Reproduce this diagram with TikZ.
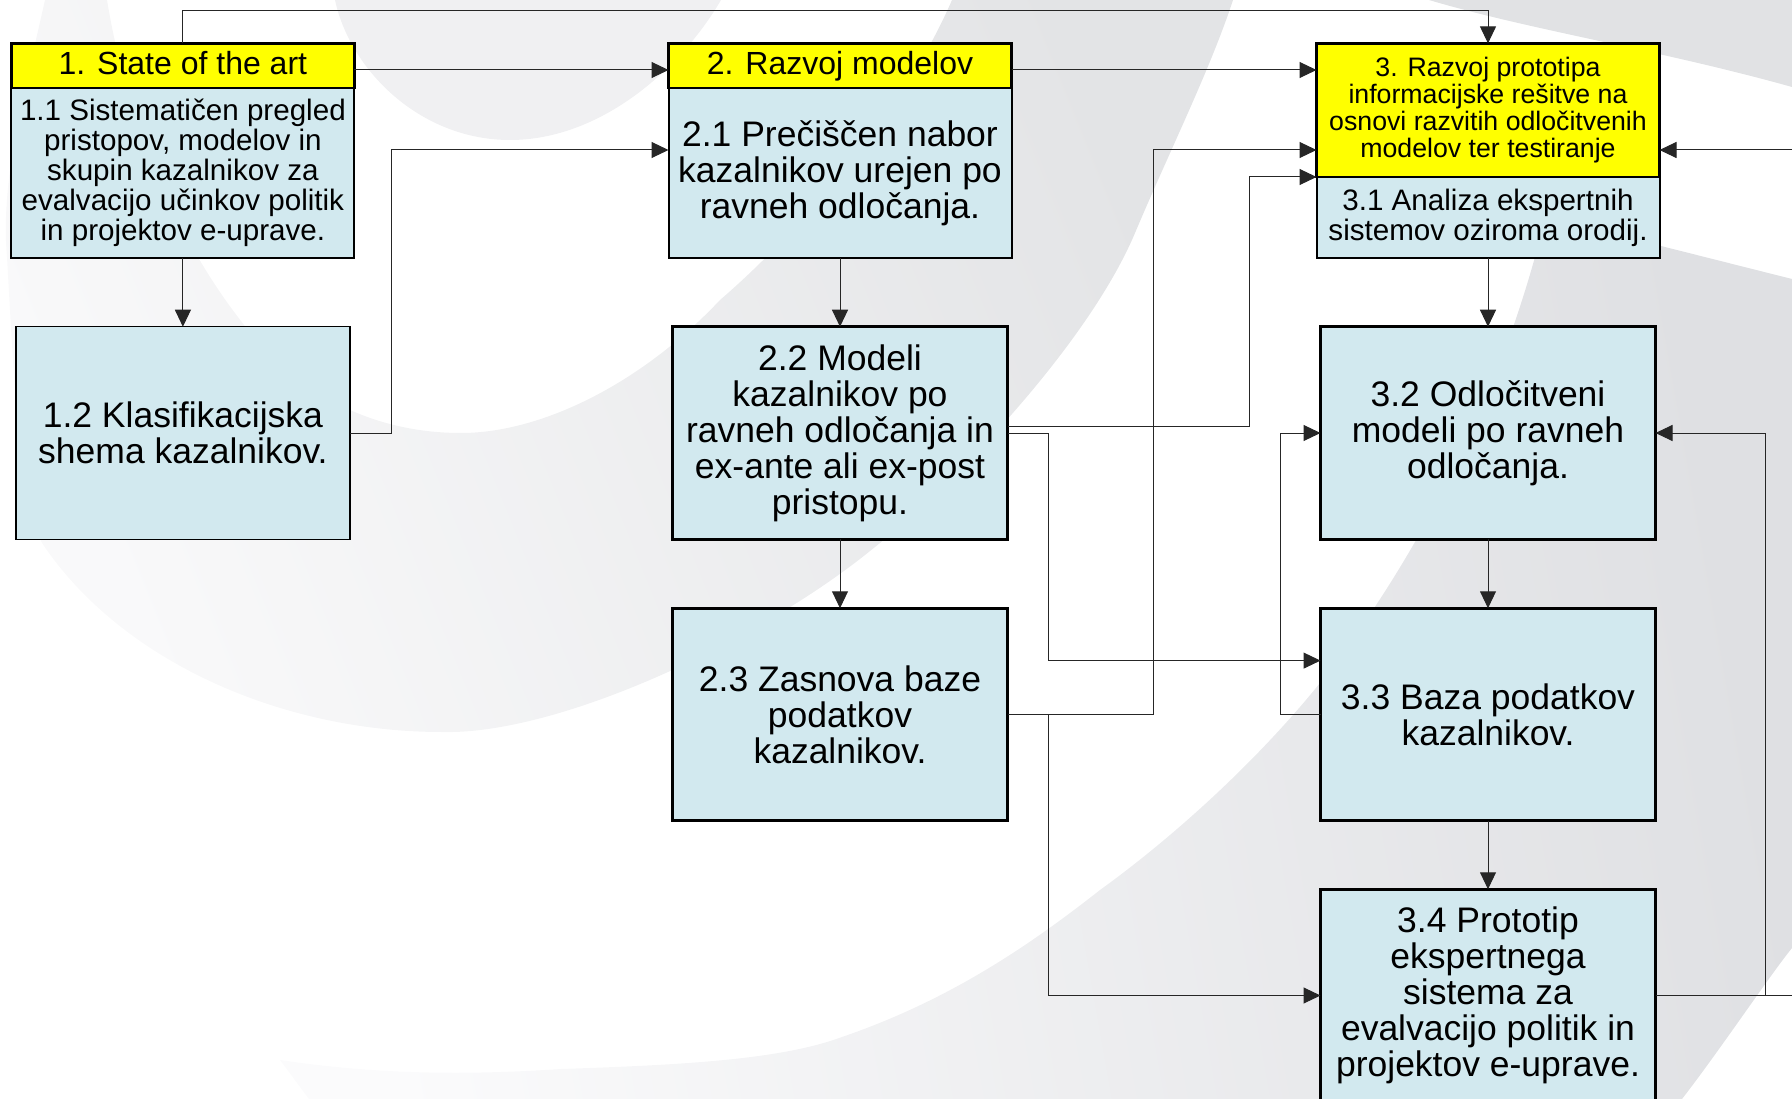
\documentclass[tikz,border=0pt]{standalone}
\usepackage{fontspec}
\setmainfont{Liberation Sans}
\usetikzlibrary{arrows.meta,calc}
\definecolor{boxfill}{HTML}{D2E9EF}
\definecolor{hdfill}{RGB}{255,255,0}
\definecolor{ln}{HTML}{262626}
\definecolor{swA}{HTML}{F9F9FA}
\definecolor{swAm}{HTML}{F5F5F6}
\definecolor{swB}{HTML}{E3E4E6}
\definecolor{swC}{HTML}{F0F0F2}
\definecolor{swD}{HTML}{E1E2E4}
\definecolor{swE}{HTML}{FBFBFC}
\definecolor{swEm}{HTML}{F3F3F5}
\definecolor{swF}{HTML}{DFE0E3}
\tikzset{
  conn/.style={draw=ln,line width=1pt,-{Triangle[length=17pt,width=16pt]}},
  plainconn/.style={draw=ln,line width=1pt},
  box/.style={draw=black,inner sep=0pt,outer sep=0pt,align=center,text=black},
  thinbox/.style={box,fill=boxfill,line width=1.2pt,minimum width=334pt,minimum height=212.5pt},
  thickbox/.style={box,fill=boxfill,line width=3.4pt,minimum width=335pt,minimum height=212.5pt},
  bodybox/.style={box,fill=boxfill,line width=2pt,minimum width=343pt},
  headbox/.style={box,fill=hdfill,line width=2.4pt,minimum width=343pt},
  big/.style={font=\fontsize{35.5}{36}\selectfont},
  mid/.style={font=\fontsize{29.6}{30}\selectfont},
  head/.style={font=\fontsize{32}{34}\selectfont,text height=24pt,text depth=7pt},
  small/.style={font=\fontsize{26.7}{27}\selectfont},
}
\begin{document}
\begin{tikzpicture}[x=1pt,y=-1pt]
\useasboundingbox (0,0) rectangle (1792,1099);
\clip (0,0) rectangle (1792,1099);
% background swooshes
\shade[left color=swA,middle color=swAm,right color=swB,shading angle=112]
  (45,0) .. controls (25,90) and (0,180) .. (7,257)
  .. controls (15,400) and (20,500) .. (42,543)
  .. controls (120,660) and (280,732) .. (442,732)
  .. controls (560,735) and (760,640) .. (870,551)
  .. controls (960,480) and (1090,340) .. (1135,233)
  .. controls (1170,150) and (1210,70) .. (1233,0)
  -- (952,0)
  .. controls (900,120) and (790,240) .. (720,300)
  .. controls (640,385) and (540,433) .. (461,433)
  .. controls (380,433) and (300,400) .. (241,321)
  .. controls (170,230) and (125,110) .. (107,0) -- cycle;
\fill[swC]
  (335,0) .. controls (350,70) and (420,140) .. (510,140)
  .. controls (600,140) and (680,70) .. (721,0) -- cycle;
\fill[swD]
  (1429,0) -- (1792,0) -- (1792,87) .. controls (1660,50) and (1530,30) .. (1429,0) -- cycle;
\shade[left color=swE,middle color=swEm,right color=swF,shading angle=100]
  (280,1060) .. controls (380,1075) and (470,1075) .. (561,1069)
  .. controls (680,1065) and (780,1060) .. (842,1037)
  .. controls (950,1000) and (1030,945) .. (1100,890)
  .. controls (1190,825) and (1290,730) .. (1353,639)
  .. controls (1430,530) and (1495,400) .. (1535,257)
  -- (1661,246) -- (1792,279) -- (1792,948)
  .. controls (1770,975) and (1720,1050) .. (1682,1099)
  -- (309,1099) -- cycle;
% boxes
\node[headbox,head,minimum height=44.6pt] (h1) at (182.9,65.7) {1. State of the art};
\node[bodybox,mid,minimum height=170pt] (b11) at (182.9,173) {1.1 Sistematičen pregled\\pristopov, modelov in\\skupin kazalnikov za\\evalvacijo učinkov politik\\in projektov e-uprave.};
\node[thinbox,big] (b12) at (182.9,433) {1.2 Klasifikacijska\\shema kazalnikov.};
\node[headbox,head,minimum height=44.6pt] (h2) at (840,65.7) {2. Razvoj modelov};
\node[bodybox,big,minimum height=170pt] (b21) at (840,173) {2.1 Prečiščen nabor\\kazalnikov urejen po\\ravneh odločanja.};
\node[thickbox,big] (b22) at (840,433) {2.2 Modeli\\kazalnikov po\\ravneh odločanja in\\ex-ante ali ex-post\\pristopu.};
\node[thickbox,big] (b23) at (840,714.5) {2.3 Zasnova baze\\podatkov\\kazalnikov.};
\node[headbox,small,minimum height=133.6pt] (h3) at (1488,110.2) {3. Razvoj prototipa\\informacijske rešitve na\\osnovi razvitih odločitvenih\\modelov ter testiranje};
\node[bodybox,mid,minimum height=81pt] (b31) at (1488,217.5) {3.1 Analiza ekspertnih\\sistemov oziroma orodij.};
\node[thickbox,big] (b32) at (1488,433) {3.2 Odločitveni\\modeli po ravneh\\odločanja.};
\node[thickbox,big] (b33) at (1488,714.5) {3.3 Baza podatkov\\kazalnikov.};
\node[thickbox,big] (b34) at (1488,995.5) {3.4 Prototip\\ekspertnega\\sistema za\\evalvacijo politik in\\projektov e-uprave.};
% way points
\coordinate (ytop) at (0,10.3);
\coordinate (y70) at (0,70);
\coordinate (y150) at (0,150);
\coordinate (y177) at (0,177);
\coordinate (y426) at (0,426.3);
\coordinate (y660) at (0,660.6);
\coordinate (x391) at (391,0);
\coordinate (x1048) at (1048,0);
\coordinate (x1153) at (1153,0);
\coordinate (x1249) at (1249,0);
\coordinate (x1280) at (1280,0);
\coordinate (x1765) at (1765,0);
\coordinate (rin) at (1795,150);
\coordinate (rout) at (1795,995.5);
% connectors
\draw[conn] (h1.north) -- (h1.north |- ytop) -- (h3.north |- ytop) -- (h3.north);
\draw[conn] (h1.east |- y70) -- (h2.west |- y70);
\draw[conn] (h2.east |- y70) -- (h3.west |- y70);
\draw[conn] (b11.south) -- (b12.north);
\draw[conn] (b21.south) -- (b22.north);
\draw[conn] (b22.south) -- (b23.north);
\draw[conn] (b31.south) -- (b32.north);
\draw[conn] (b32.south) -- (b33.north);
\draw[conn] (b33.south) -- (b34.north);
\draw[conn] (b12.east) -- (x391 |- b12.east) -- (x391 |- y150) -- (h2.west |- y150);
\draw[conn] (b22.east |- y426) -- (x1249 |- y426) -- (x1249 |- y177) -- (h3.west |- y177);
\draw[conn] (b22.east) -- (x1048 |- b22.east) -- (x1048 |- y660) -- (b33.west |- y660);
\draw[conn] (b23.east) -- (x1153 |- b23.east) -- (x1153 |- y150) -- (h3.west |- y150);
\draw[conn] (x1048 |- b23.east) -- (x1048 |- b34.west) -- (b34.west);
\draw[conn] (b33.west) -- (x1280 |- b33.west) -- (x1280 |- b32.west) -- (b32.west);
\draw[conn] (b34.east) -- (x1765 |- b34.east) -- (x1765 |- b32.east) -- (b32.east);
\draw[plainconn] (x1765 |- b34.east) -- (rout);
\draw[conn] (rin) -- (h3.east |- rin);
\end{tikzpicture}
\end{document}
